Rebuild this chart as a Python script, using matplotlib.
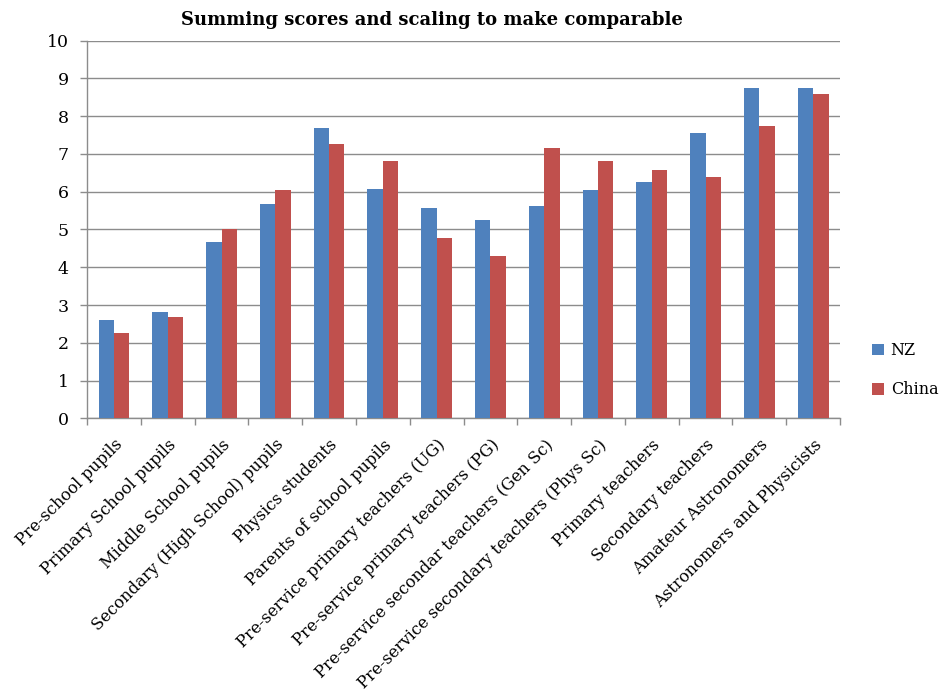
import matplotlib
matplotlib.use("Agg")
import matplotlib.pyplot as plt
import numpy as np

categories = [
    "Pre-school pupils",
    "Primary School pupils",
    "Middle School pupils",
    "Secondary (High School) pupils",
    "Physics students",
    "Parents of school pupils",
    "Pre-service primary teachers (UG)",
    "Pre-service primary teachers (PG)",
    "Pre-service secondar teachers (Gen Sc)",
    "Pre-service secondary teachers (Phys Sc)",
    "Primary teachers",
    "Secondary teachers",
    "Amateur Astronomers",
    "Astronomers and Physicists",
]
nz = [2.59, 2.82, 4.67, 5.68, 7.68, 6.08, 5.58, 5.25, 5.63, 6.04, 6.26, 7.56, 8.74, 8.76]
china = [2.27, 2.67, 5.00, 6.04, 7.26, 6.82, 4.77, 4.31, 7.15, 6.82, 6.57, 6.39, 7.73, 8.60]
series_names = ["NZ", "China"]
yticks = list(range(0, 11))

plt.rcParams["font.family"] = ["DejaVu Serif"]

fig = plt.figure(figsize=(9.41, 6.97), dpi=100)
ax = fig.add_axes([0.0925, 0.3999, 0.8002, 0.5417])

x = np.arange(len(categories))
w = 1 / 3.5
ax.bar(x - w / 2, nz, width=w, color="#4F81BD", label=series_names[0], zorder=3)
ax.bar(x + w / 2, china, width=w, color="#C0504D", label=series_names[1], zorder=3)

ax.set_xlim(-0.5, len(categories) - 0.5)
ax.set_ylim(0, 10)
ax.set_yticks(yticks)
ax.set_yticklabels([str(t) for t in yticks], fontsize=12.5)
ax.yaxis.grid(True, color="#8C8C8C", linewidth=1.0, zorder=0)
ax.set_axisbelow(True)

# category labels centred on groups, tick marks between groups
ax.set_xticks(x)
ax.set_xticklabels(categories, rotation=45, ha="right", rotation_mode="anchor",
                   fontsize=11.8)
ax.tick_params(axis="x", length=0, pad=13)
ax.set_xticks(np.arange(-0.5, len(categories) + 0.5, 1), minor=True)
ax.tick_params(axis="x", which="minor", length=5, color="#8C8C8C", width=1.0)
ax.tick_params(axis="y", length=5, color="#8C8C8C", width=1.0, pad=8)

for side in ["top", "right"]:
    ax.spines[side].set_visible(False)
for side in ["left", "bottom"]:
    ax.spines[side].set_color("#8C8C8C")
    ax.spines[side].set_linewidth(1.0)

fig.text(0.459, 0.972, "Summing scores and scaling to make comparable",
         fontsize=13, fontweight="bold", ha="center", va="center")

fig.legend(loc="center left", bbox_to_anchor=(0.927, 0.469), frameon=False,
           fontsize=11.5, handlelength=0.75, handleheight=0.75, labelspacing=1.4,
           handletextpad=0.4, borderaxespad=0, borderpad=0)

fig.savefig("out.png", dpi=100, facecolor="white")
